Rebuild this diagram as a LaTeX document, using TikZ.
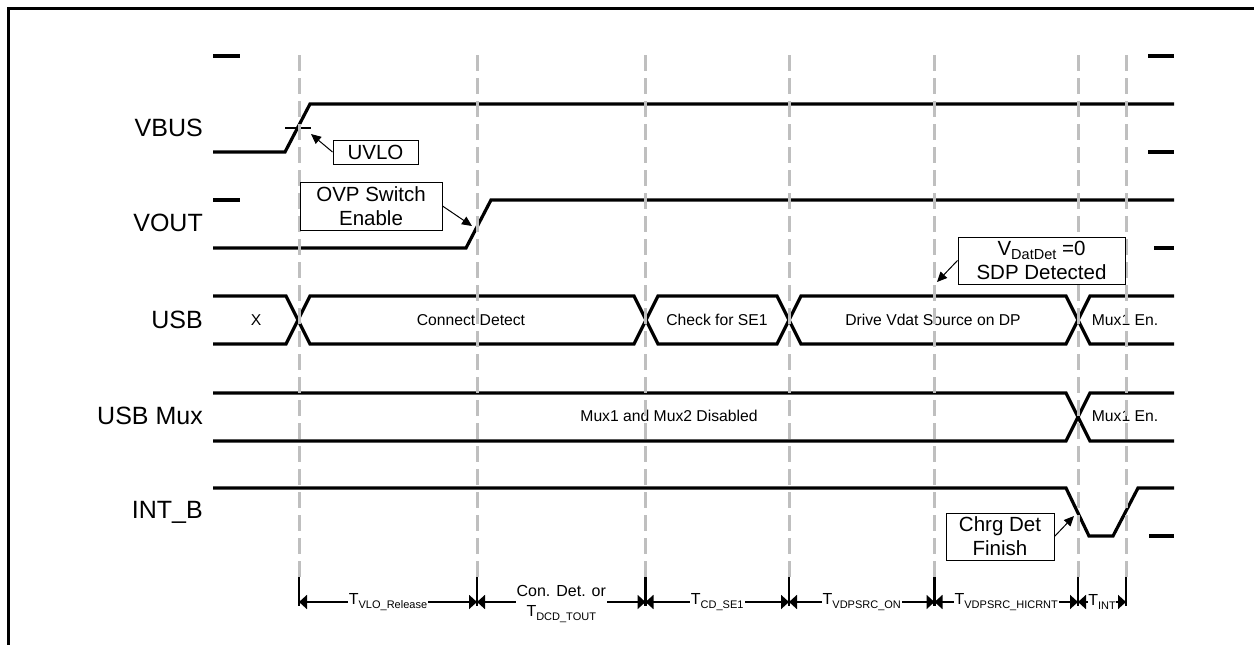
\documentclass[tikz,border=0pt]{standalone}
\usepackage{fontspec}
\setmainfont{Liberation Sans}
\usetikzlibrary{arrows.meta}
\newcommand{\Tsb}[2]{#1\raisebox{-3.5pt}{\fontsize{11}{11}\selectfont #2}}
\newcommand{\Vsb}[2]{#1\raisebox{-4pt}{\fontsize{14.5}{14.5}\selectfont #2}}
\begin{document}
\begin{tikzpicture}[x=1pt,y=-1pt,
  sig/.style={line width=3.2pt},
  gridline/.style={line width=3pt, draw=black!25, dash pattern=on 16pt off 7pt},
  signame/.style={anchor=east, font=\fontsize{25}{28}\selectfont, inner sep=0pt},
  bustext/.style={font=\fontsize{15.7}{18}\selectfont, inner sep=0pt},
  note/.style={draw, line width=1pt, fill=white, align=center, font=\fontsize{20.5}{24}\selectfont, inner sep=0pt},
  pointer/.style={line width=1pt, -{Triangle[length=10pt,width=9pt]}},
  span/.style={line width=1.8pt, {Triangle[length=8pt,width=14pt]}-{Triangle[length=8pt,width=14pt]}},
  spanlabel/.style={fill=white, inner sep=1pt, align=center, font=\fontsize{16}{20}\selectfont},
  tickline/.style={line width=2.4pt}
]
\useasboundingbox (0,0) rectangle (1254,645);
% frame
\draw[line width=3pt] (1254,8.5) -- (8.5,8.5) -- (8.5,645);

% signal names
\node[signame] (nvbus) at (203,128) {VBUS};
\node[signame] (nvout) at (203,223) {VOUT};
\node[signame] (nusb) at (203,320) {USB};
\node[signame] (nmux) at (203,416) {USB Mux};
\node[signame] (nint) at (203,512) {INT\_B};

% level ticks
\draw[sig] (213,56) -- (240,56);
\draw[sig] (1148,56) -- (1174,56);
\draw[sig] (1148,152) -- (1174,152);
\draw[sig] (213,200) -- (240,200);
\draw[sig] (1154,248) -- (1174,248);
\draw[sig] (1149,536) -- (1174,536);

% VBUS
\draw[sig] (213,152) -- (285,152) -- (310,104) -- (1174,104);
\draw[line width=1.2pt] (285,128) -- (311,128);
% VOUT
\draw[sig] (213,248) -- (466,248) -- (491,200) -- (1174,200);
% USB bus
\draw[sig] (213,296) -- (286,296) -- (310,344) -- (634,344) -- (658,296) -- (777,296) -- (801,344) -- (1066,344) -- (1090,296) -- (1174,296);
\draw[sig] (213,344) -- (286,344) -- (310,296) -- (634,296) -- (658,344) -- (777,344) -- (801,296) -- (1066,296) -- (1090,344) -- (1174,344);
% USB Mux
\draw[sig] (213,393) -- (1066,393) -- (1090,441) -- (1174,441);
\draw[sig] (213,441) -- (1066,441) -- (1090,393) -- (1174,393);
% INT_B
\draw[sig] (213,488) -- (1066,488) -- (1089,536) -- (1113,536) -- (1138,488) -- (1174,488);

% bus texts
\node[bustext] (bx) at (256,320) {X};
\node[bustext] (bcd) at (471,320) {Connect Detect};
\node[bustext] (bse) at (717,320) {Check for SE1};
\node[bustext] (bdv) at (933,320) {Drive Vdat Source on DP};
\node[bustext] (bm1) at (1125,320) {Mux1 En.};
\node[bustext] (bmd) at (669,416) {Mux1 and Mux2 Disabled};
\node[bustext] (bm2) at (1125,416) {Mux1 En.};

% dashed time lines
\foreach \x in {299,477,645.5,789,934.5,1078,1126}{
  \draw[gridline] (\x,55) -- (\x,577);
  \draw[tickline] (\x,577) -- (\x,606);
}

% annotation boxes
\node[note, minimum width=85pt, minimum height=24pt] (uvlo) at (375.5,152) {UVLO};
\node[note, minimum width=142pt, minimum height=48pt] (ovp) at (371,206) {OVP Switch\\Enable};
\node[note, minimum width=167pt, minimum height=47pt] (vdat) at (1041.5,260.5) {\Vsb{V}{DatDet} =0\\SDP Detected};
\node[note, minimum width=108pt, minimum height=47pt] (chrg) at (1000,536.5) {Chrg Det\\Finish};

\coordinate (puvlo) at (311,134);
\coordinate (povp) at (472,226);
\coordinate (pvdat) at (937,282);
\coordinate (pchrg) at (1074,516);
\draw[pointer] (uvlo.west) -- (puvlo);
\draw[pointer] (ovp.east) -- (povp);
\draw[pointer] (vdat.west) -- (pvdat);
\draw[pointer] (chrg.east) -- (pchrg);

% timing spans
\coordinate (m0) at (299,602);
\coordinate (m1) at (477,602);
\coordinate (m2) at (645.5,602);
\coordinate (m3) at (789,602);
\coordinate (m4) at (934.5,602);
\coordinate (m5) at (1078,602);
\coordinate (m6) at (1126,602);
\draw[span] (m0) -- (m1) node[spanlabel, midway] (s1) {\Tsb{T}{VLO\_Release}};
\draw[span] (m1) -- (m2) node[spanlabel, midway, yshift=-2pt] (s2) {Con. Det. or\\\Tsb{T}{DCD\_TOUT}};
\draw[span] (m2) -- (m3) node[spanlabel, midway] (s3) {\Tsb{T}{CD\_SE1}};
\draw[span] (m3) -- (m4) node[spanlabel, midway] (s4) {\Tsb{T}{VDPSRC\_ON}};
\draw[span] (m4) -- (m5) node[spanlabel, midway] (s5) {\Tsb{T}{VDPSRC\_HICRNT}};
\draw[span] (m5) -- (m6) node[spanlabel, midway, inner sep=0pt] (s6) {\Tsb{T}{INT}};
\end{tikzpicture}
\end{document}
